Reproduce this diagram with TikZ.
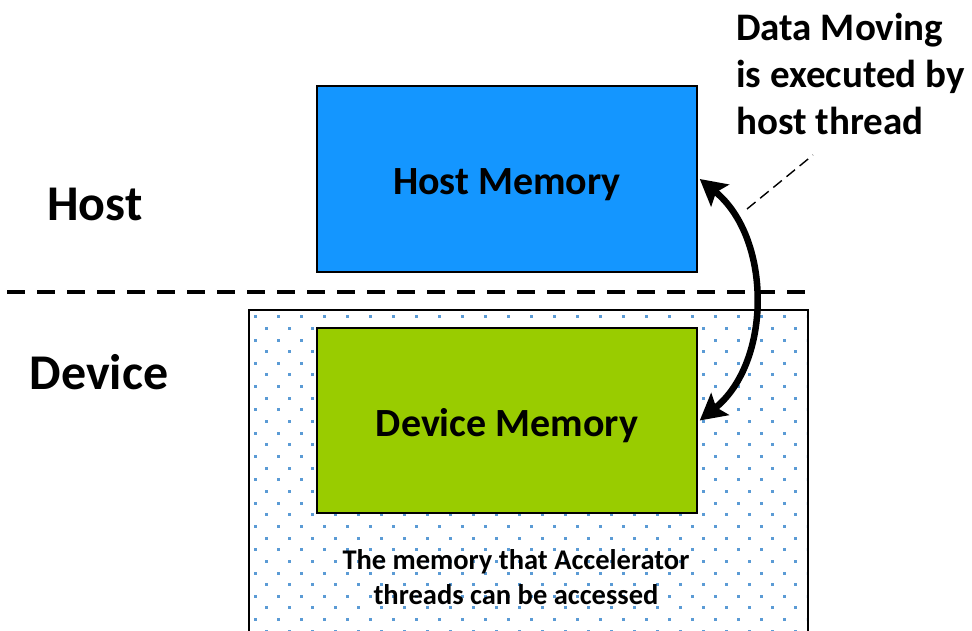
\documentclass[tikz,border=0pt]{standalone}
\usepackage{fontspec}
\setmainfont{Carlito}
\usetikzlibrary{arrows.meta}
\definecolor{hostblue}{HTML}{1496FF}
\definecolor{devgreen}{HTML}{99CC00}
\definecolor{dotblue}{HTML}{5B9BD5}
\tikzset{
  membox/.style={draw=black, line width=1.5pt, minimum width=380pt, inner sep=0pt},
  memtext/.style={font=\fontsize{40}{48}\selectfont\bfseries, inner sep=0pt},
  sidelabel/.style={font=\fontsize{50}{60}\selectfont\bfseries, inner sep=0pt},
  divider/.style={line width=3.5pt, dash pattern=on 18pt off 12pt},
  movearrow/.style={line width=6.5pt,
    {Stealth[length=26pt,width=28pt,inset=5pt]}-{Stealth[length=26pt,width=28pt,inset=5pt]}},
  pointer/.style={line width=1.4pt, dash pattern=on 11pt off 6pt},
  note/.style={font=\fontsize{39}{47}\selectfont\bfseries, align=left, inner sep=0pt},
  smallnote/.style={font=\fontsize{28.5}{35}\selectfont\bfseries, align=center, inner sep=0pt}
}
\begin{document}
\begin{tikzpicture}[x=1pt,y=-1pt]
\clip (0,0) rectangle (972,631);

% accelerator-accessible area: dotted fill, open at the bottom
\begin{scope}
  \clip (251,312) rectangle (806,640);
  \foreach \i in {0,...,28} {
    \pgfmathsetmacro\yy{316.7+11.65*\i}
    \pgfmathsetmacro\xo{255+11.5*mod(\i,2)}
    \foreach \k in {0,...,24} {
      \fill[dotblue] ({\xo+23*\k-1.5},{\yy-1.5}) rectangle ++(3,3);
    }
  }
\end{scope}
\node[draw=black, line width=2pt, minimum width=559pt, minimum height=340pt, inner sep=0pt]
  (accel) at (528.5,480) {};

% host / device divider
\coordinate (divL) at (7,292);
\coordinate (divR) at (810,292);
\draw[divider] (divL) -- (divR);

% memories
\node[membox, fill=hostblue, minimum height=186pt] (hostmem) at (507,179) {};
\node[memtext] (hosttext) at ([yshift=-6pt]hostmem.center) {Host Memory};
\node[membox, fill=devgreen, minimum height=185pt] (devmem) at (507,420.5) {};
\node[memtext] (devtext) at ([yshift=-5.5pt]devmem.center) {Device Memory};

% side labels
\node[sidelabel] (hostlbl) at (95,204) {Host};
\node[sidelabel] (devlbl) at (99,372) {Device};

% data transfer
\draw[movearrow] ([xshift=2pt]hostmem.east) .. controls (772,238) and (772,362) .. ([xshift=2pt]devmem.east);

% annotation
\node[note, anchor=west] (movenote) at (736,74) {Data Moving\\is executed by\\host thread};
\coordinate (ptrA) at (747,209);
\coordinate (ptrB) at (813,155);
\draw[pointer] (ptrA) -- (ptrB);

\node[smallnote] (accelnote) at (516,577) {The memory that Accelerator\\threads can be accessed};
\end{tikzpicture}
\end{document}
